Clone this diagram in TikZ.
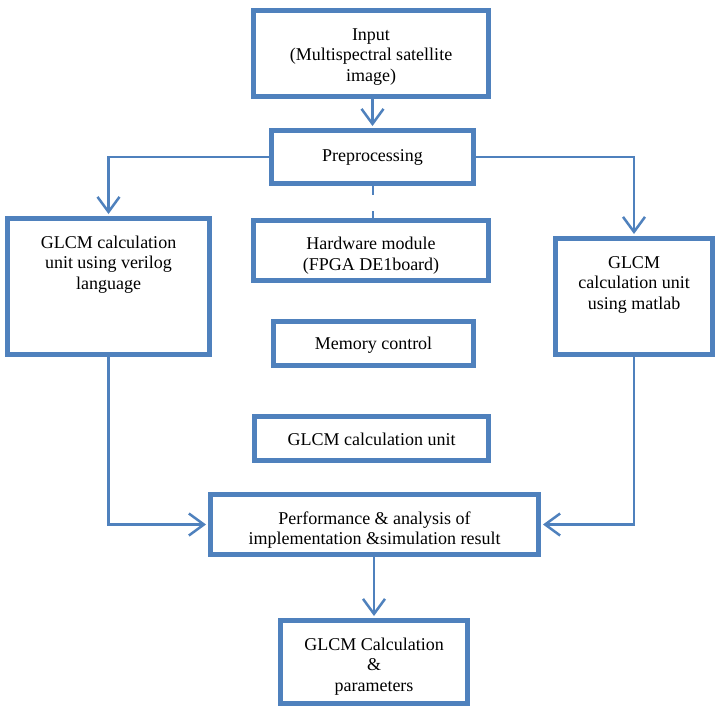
\documentclass[tikz,border=0pt]{standalone}
\usepackage{fontspec}
\setmainfont{Liberation Serif}
\usetikzlibrary{arrows.meta}
\definecolor{ob}{RGB}{79,129,189}
\begin{document}
\begin{tikzpicture}[x=1pt,y=-1pt,
  box/.style={draw=ob, line width=5pt, fill=white, inner sep=0pt},
  txt/.style={align=center, font=\fontsize{18}{20.5}\selectfont, inner sep=0pt},
  conn/.style={draw=ob, line width=2.5pt},
  tip/.style={-{Straight Barb[length=15pt,width=22pt]}, shorten >=2pt}]
\useasboundingbox[fill=white] (0,0) rectangle (715,715);
% boxes
\node[box, minimum width=235pt, minimum height=86pt] (input) at (371,53.5) {};
\node[box, minimum width=202pt, minimum height=53pt] (prep) at (372.5,157) {};
\node[box, minimum width=235pt, minimum height=60pt] (hw) at (371,250.5) {};
\node[box, minimum width=202pt, minimum height=136pt] (left) at (108.5,286.5) {};
\node[box, minimum width=157pt, minimum height=116pt] (right) at (634,296.5) {};
\node[box, minimum width=200pt, minimum height=44pt] (mem) at (373.5,343.5) {};
\node[box, minimum width=234pt, minimum height=44pt] (unit) at (371.5,438.5) {};
\node[box, minimum width=328pt, minimum height=60pt] (perf) at (374.5,524.5) {};
\node[box, minimum width=187pt, minimum height=83pt] (final) at (374,662) {};
% texts
\node[txt] (inputt) at (371,57) {Input\\(Multispectral satellite\\image)};
\node[txt] (prept) at (372.5,157.5) {Preprocessing};
\node[txt] (hwt) at (371,255.5) {Hardware module\\(FPGA DE1board)};
\node[txt] (leftt) at (108.5,264.5) {GLCM calculation\\unit using verilog\\language};
\node[txt] (rightt) at (634,284.5) {GLCM\\calculation unit\\using matlab};
\node[txt] (memt) at (373.5,345.5) {Memory control};
\node[txt] (unitt) at (371.5,439.5) {GLCM calculation unit};
\node[txt] (perft) at (374.5,530) {Performance \& analysis of\\implementation \&simulation result};
\node[txt] (finalt) at (374,666.5) {GLCM Calculation\\\&\\parameters};
% connectors
\draw[conn,tip] (input.south -| prep.north) -- (prep.north);
\draw[conn,tip] (prep.west) -| (left.north);
\draw[conn,tip] (prep.east) -| (right.north);
\draw[conn, line width=2pt] (prep.south) -- ++(0,8.5) coordinate (stubA);
\draw[conn, line width=2pt] (hw.north -| prep.south) -- ++(0,-7) coordinate (stubB);
\draw[conn,tip] (left.south) |- (perf.west);
\draw[conn,tip] (right.south) |- (perf.east);
\draw[conn,tip] (perf.south -| final.north) -- (final.north);
\end{tikzpicture}
\end{document}
